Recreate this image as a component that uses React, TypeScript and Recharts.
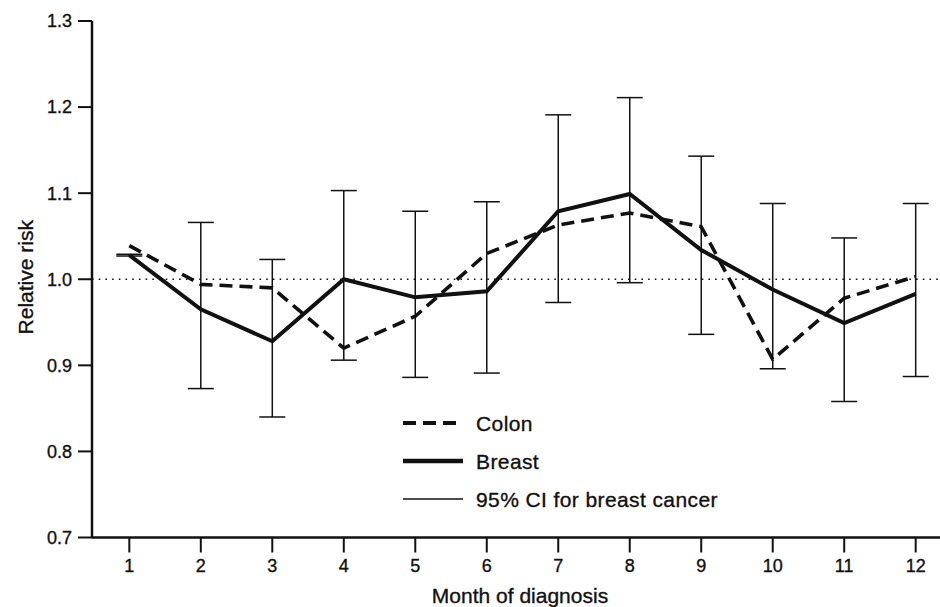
import React from 'react';
import {
  ComposedChart,
  Line,
  XAxis,
  YAxis,
  ReferenceLine,
  ErrorBar,
} from 'recharts';

const MONTHS = [1, 2, 3, 4, 5, 6, 7, 8, 9, 10, 11, 12];
const COLON = [1.039, 0.994, 0.99, 0.92, 0.957, 1.03, 1.063, 1.077, 1.061, 0.907, 0.978, 1.003];
const BREAST = [1.028, 0.965, 0.928, 1.0, 0.979, 0.986, 1.079, 1.099, 1.034, 0.988, 0.949, 0.983];
const CI_LOW = [1.027, 0.873, 0.84, 0.906, 0.886, 0.891, 0.973, 0.996, 0.936, 0.896, 0.858, 0.887];
const CI_HIGH = [1.029, 1.066, 1.023, 1.103, 1.079, 1.09, 1.191, 1.211, 1.143, 1.088, 1.048, 1.088];
const Y_TICKS = [0.7, 0.8, 0.9, 1.0, 1.1, 1.2, 1.3];

const LEGEND = [
  { label: 'Colon', width: 4, dash: '13 7' },
  { label: 'Breast', width: 4.5, dash: undefined },
  { label: '95% CI for breast cancer', width: 1.4, dash: undefined },
];

const INK = '#111';
const FONT = '"Liberation Sans", Arial, Helvetica, sans-serif';
// scanned type looks a little heavier than plain regular
const TEXT_STROKE = { stroke: INK, strokeWidth: 0.35 };

const data = MONTHS.map((m, i) => ({
  month: m,
  colon: COLON[i],
  breast: BREAST[i],
  ci: [BREAST[i] - CI_LOW[i], CI_HIGH[i] - BREAST[i]],
}));

const XTitle = (props: any) => {
  const { viewBox } = props;
  return (
    <text
      x={viewBox.x + viewBox.width / 2 + 4}
      y={viewBox.y + viewBox.height - 4}
      textAnchor="middle"
      fill={INK}
      {...TEXT_STROKE}
      fontSize={21}
      fontFamily={FONT}
    >
      Month of diagnosis
    </text>
  );
};

const YTitle = (props: any) => {
  const { viewBox } = props;
  const cx = 25;
  const cy = viewBox.y + viewBox.height / 2 - 2;
  return (
    <text
      x={cx}
      y={cy}
      transform={`rotate(-90, ${cx}, ${cy})`}
      textAnchor="middle"
      dominantBaseline="central"
      fill={INK}
      {...TEXT_STROKE}
      fontSize={21}
      fontFamily={FONT}
    >
      Relative risk
    </text>
  );
};

export default function App() {
  return (
    <div
      style={{
        position: 'absolute',
        left: 0,
        top: 0,
        width: 940,
        height: 607,
        background: '#fff',
        fontFamily: FONT,
      }}
    >
      <ComposedChart
        width={940}
        height={607}
        data={data}
        margin={{ top: 21, right: 0, bottom: 0, left: 0 }}
      >
        <XAxis
          type="number"
          dataKey="month"
          domain={[0.478, 12.34]}
          ticks={MONTHS}
          allowDataOverflow
          height={69.5}
          tickSize={15}
          tickMargin={7}
          axisLine={{ stroke: INK, strokeWidth: 2.5 }}
          tickLine={{ stroke: INK, strokeWidth: 2 }}
          tick={{ fill: INK, fontSize: 18, fontFamily: FONT, ...TEXT_STROKE }}
          label={{ content: XTitle }}
        />
        <YAxis
          type="number"
          domain={[0.7, 1.3]}
          ticks={Y_TICKS}
          allowDataOverflow
          width={92}
          tickSize={14}
          tickMargin={6}
          tickFormatter={(v: number) => v.toFixed(1)}
          axisLine={{ stroke: INK, strokeWidth: 2.5 }}
          tickLine={{ stroke: INK, strokeWidth: 2 }}
          tick={{ fill: INK, fontSize: 18, fontFamily: FONT, ...TEXT_STROKE }}
          label={{ content: YTitle }}
        />
        <ReferenceLine y={1} stroke={INK} strokeWidth={1.6} strokeDasharray="1.6 5.1" />
        <Line
          type="linear"
          dataKey="colon"
          stroke={INK}
          strokeWidth={3.6}
          strokeDasharray="13 7"
          dot={false}
          isAnimationActive={false}
        />
        <Line
          type="linear"
          dataKey="breast"
          stroke={INK}
          strokeWidth={4}
          dot={false}
          isAnimationActive={false}
        >
          <ErrorBar
            dataKey="ci"
            direction="y"
            width={13}
            stroke={INK}
            strokeWidth={1.5}
            isAnimationActive={false}
          />
        </Line>
      </ComposedChart>
      <svg
        width={360}
        height={110}
        style={{ position: 'absolute', left: 400, top: 405 }}
      >
        {LEGEND.map((item, i) => {
          const y = 18 + i * 38;
          return (
            <g key={item.label}>
              <line
                x1={3}
                x2={63}
                y1={y}
                y2={y}
                stroke={INK}
                strokeWidth={item.width}
                strokeDasharray={item.dash}
              />
              <text
                x={76}
                y={y}
                dominantBaseline="central"
                fill={INK}
                {...TEXT_STROKE}
                fontSize={21}
                letterSpacing={0.4}
                fontFamily={FONT}
              >
                {item.label}
              </text>
            </g>
          );
        })}
      </svg>
    </div>
  );
}
